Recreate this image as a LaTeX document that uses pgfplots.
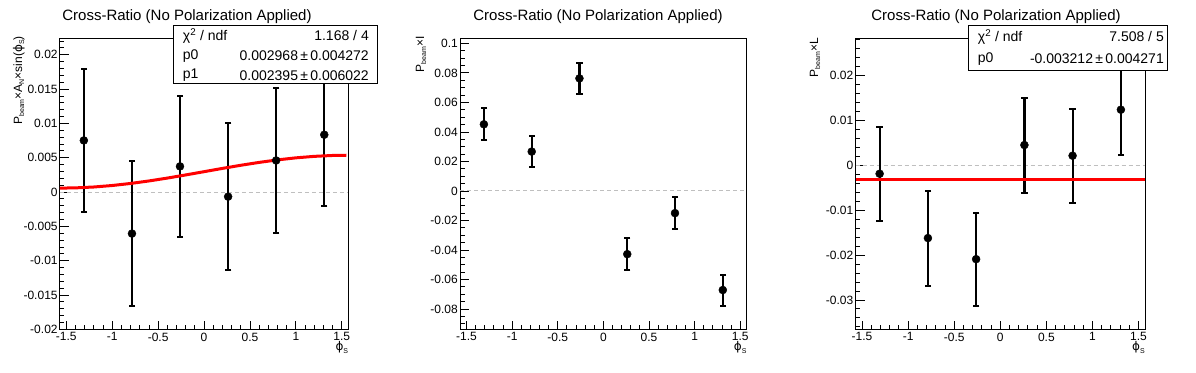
\documentclass[border=0pt]{standalone}
\usepackage{fontspec}
\setmainfont{Liberation Sans}
\newfontfamily\dejavu{DejaVu Sans}
\usepackage{pgfplots}
\pgfplotsset{compat=1.18}
\usepackage{pgfplotstable}

\pgfplotstableread{
x y e
-1.309 0.00752 0.0104
-0.785 -0.00605 0.0106
-0.262 0.00374 0.0103
0.262 -0.00067 0.0107
0.785 0.00460 0.0105
1.309 0.00835 0.0104
}\dataA
\pgfplotstableread{
x y e
-1.309 0.0452 0.0107
-0.785 0.0267 0.0104
-0.262 0.0763 0.0105
0.262 -0.0428 0.0108
0.785 -0.0150 0.0106
1.309 -0.0671 0.0105
}\dataB
\pgfplotstableread{
x y e
-1.309 -0.00185 0.0105
-0.785 -0.0162 0.0106
-0.262 -0.0209 0.0104
0.262 0.00455 0.0106
0.785 0.00217 0.0105
1.309 0.01243 0.0102
}\dataC

\newcommand{\sub}[1]{\raisebox{-2.2pt}{\fontsize{7}{7}\selectfont #1}}

\pgfplotsset{
  rootaxis/.style={
    scale only axis, anchor=south west, height=291pt,
    xmin=-1.5708, xmax=1.5708,
    scaled x ticks=false, scaled y ticks=false,
    axis line style={line width=1pt},
    tick align=inside, xtick pos=left, ytick pos=left,
    major tick length=9pt, minor tick length=4.5pt,
    every tick/.style={black, line width=0.9pt},
    xtick={-1.5,-1,-0.5,0,0.5,1,1.5},
    xticklabels={-1.5,-1,-0.5,0,0.5,1,1.5},
    minor xtick={-1.4,-1.3,-1.2,-1.1,-0.9,-0.8,-0.7,-0.6,-0.4,-0.3,-0.2,-0.1,0.1,0.2,0.3,0.4,0.6,0.7,0.8,0.9,1.1,1.2,1.3,1.4},
    tick label style={font=\fontsize{12}{14}\selectfont},
    xticklabel style={inner sep=2.5pt},
    yticklabel style={inner sep=2pt},
  },
  zeroline/.style={color=black!25, line width=1pt, dash pattern=on 4pt off 3pt},
  fitline/.style={red, line width=3pt},
  caps/.style={black, only marks, mark=-, mark size=3.2pt, mark options={line width=2pt}},
  pts/.style={only marks, mark=*, black, mark size=4pt,
    error bars/.cd, y dir=both, y explicit, error mark=none,
    error bar style={line width=2.2pt, black}},
}

\begin{document}
\begin{tikzpicture}
\path[use as bounding box] (0pt,0pt) rectangle (1196pt,372pt);

% ---------------- Panel 1 ----------------
\begin{axis}[rootaxis, at={(59.8pt,42pt)}, width=288.5pt,
  ymin=-0.0201, ymax=0.0223,
  ytick={-0.02,-0.015,-0.01,-0.005,0,0.005,0.01,0.015,0.02},
  yticklabels={-0.02,-0.015,-0.01,-0.005,0,0.005,0.01,0.015,0.02},
  minor ytick={-0.019,-0.018,...,0.0225}]
\addplot[zeroline] coordinates {(-1.5708,0) (1.5708,0)};
\addplot[pts] table[x=x, y=y, y error=e] {\dataA};
\addplot[caps] table[x=x, y expr=\thisrow{y}+\thisrow{e}] {\dataA};
\addplot[caps] table[x=x, y expr=\thisrow{y}-\thisrow{e}] {\dataA};
\addplot[fitline] coordinates {
(-1.5708,0.000573) (-1.4,0.000608) (-1.2,0.000736) (-1.0,0.000953)
(-0.8,0.001250) (-0.6,0.001616) (-0.4,0.002035) (-0.2,0.002492)
(0,0.002968) (0.2,0.003444) (0.4,0.003901) (0.6,0.004320)
(0.8,0.004686) (1.0,0.004983) (1.2,0.005200) (1.4,0.005328) (1.55,0.005362)};
\end{axis}

% ---------------- Panel 2 ----------------
\begin{axis}[rootaxis, at={(460pt,42pt)}, width=286.7pt,
  ymin=-0.0942, ymax=0.1030,
  ytick={-0.08,-0.06,-0.04,-0.02,0,0.02,0.04,0.06,0.08,0.1},
  yticklabels={-0.08,-0.06,-0.04,-0.02,0,0.02,0.04,0.06,0.08,0.1},
  minor ytick={-0.09,-0.085,...,0.1025}]
\addplot[zeroline] coordinates {(-1.5708,0) (1.5708,0)};
\addplot[pts] table[x=x, y=y, y error=e] {\dataB};
\addplot[caps] table[x=x, y expr=\thisrow{y}+\thisrow{e}] {\dataB};
\addplot[caps] table[x=x, y expr=\thisrow{y}-\thisrow{e}] {\dataB};
\end{axis}

% ---------------- Panel 3 ----------------
\begin{axis}[rootaxis, at={(855.5pt,42pt)}, width=289.5pt,
  ymin=-0.0367, ymax=0.0282,
  ytick={-0.03,-0.02,-0.01,0,0.01,0.02},
  yticklabels={-0.03,-0.02,-0.01,0,0.01,0.02},
  minor ytick={-0.036,-0.034,...,0.0281}]
\addplot[zeroline] coordinates {(-1.5708,0) (1.5708,0)};
\addplot[pts] table[x=x, y=y, y error=e] {\dataC};
\addplot[caps] table[x=x, y expr=\thisrow{y}+\thisrow{e}] {\dataC};
\addplot[caps] table[x=x, y expr=\thisrow{y}-\thisrow{e}] {\dataC};
\addplot[fitline] coordinates {(-1.5708,-0.003212) (1.5708,-0.003212)};
\end{axis}

% ---------------- Titles ----------------
\foreach \cx in {187,598,996} {
  \node[anchor=base, inner sep=0pt, font=\fontsize{15}{18}\selectfont] at (\cx pt,351.3pt) {Cross-Ratio (No Polarization Applied)};
}

% ---------------- Axis titles ----------------
\node[rotate=90, anchor=base east, inner sep=0pt, font=\fontsize{12}{14}\selectfont] at (22pt,336pt)
  {P\sub{beam}×A\sub{N}×sin({\dejavu ϕ}\sub{S})};
\node[rotate=90, anchor=base east, inner sep=0pt, font=\fontsize{12}{14}\selectfont] at (424pt,336pt)
  {P\sub{beam}×I};
\node[rotate=90, anchor=base east, inner sep=0pt, font=\fontsize{12}{14}\selectfont] at (818pt,334pt)
  {P\sub{beam}×L};
\foreach \rx in {348.3,746.7,1145} {
  \node[anchor=base east, inner sep=0pt, font=\fontsize{12}{14}\selectfont] at (\rx pt,21pt) {{\dejavu ϕ}\sub{S}};
}

% ---------------- Stat boxes ----------------
\draw[fill=white, line width=1pt] (173.5pt,288pt) rectangle (377pt,346pt);
\begin{scope}[every node/.style={inner sep=0pt, font=\fontsize{14}{16}\selectfont}]
\node[anchor=west] at (182.7pt,336pt) {χ\textsuperscript{2} / ndf};
\node[anchor=east] at (369pt,336pt) {1.168 / 4};
\node[anchor=west] at (182.7pt,316pt) {p0};
\node[anchor=east] at (369pt,316pt) {0.002968\,±\,0.004272};
\node[anchor=west] at (182.7pt,296.5pt) {p1};
\node[anchor=east] at (369pt,296.5pt) {0.002395\,±\,0.006022};
\end{scope}

\draw[fill=white, line width=1pt] (968pt,301.3pt) rectangle (1167pt,346pt);
\begin{scope}[every node/.style={inner sep=0pt, font=\fontsize{14}{16}\selectfont}]
\node[anchor=west] at (977.7pt,335pt) {χ\textsuperscript{2} / ndf};
\node[anchor=east] at (1164pt,335pt) {7.508 / 5};
\node[anchor=west] at (977.7pt,313pt) {p0};
\node[anchor=east] at (1164pt,313pt) {-0.003212\,±\,0.004271};
\end{scope}
\end{tikzpicture}
\end{document}
